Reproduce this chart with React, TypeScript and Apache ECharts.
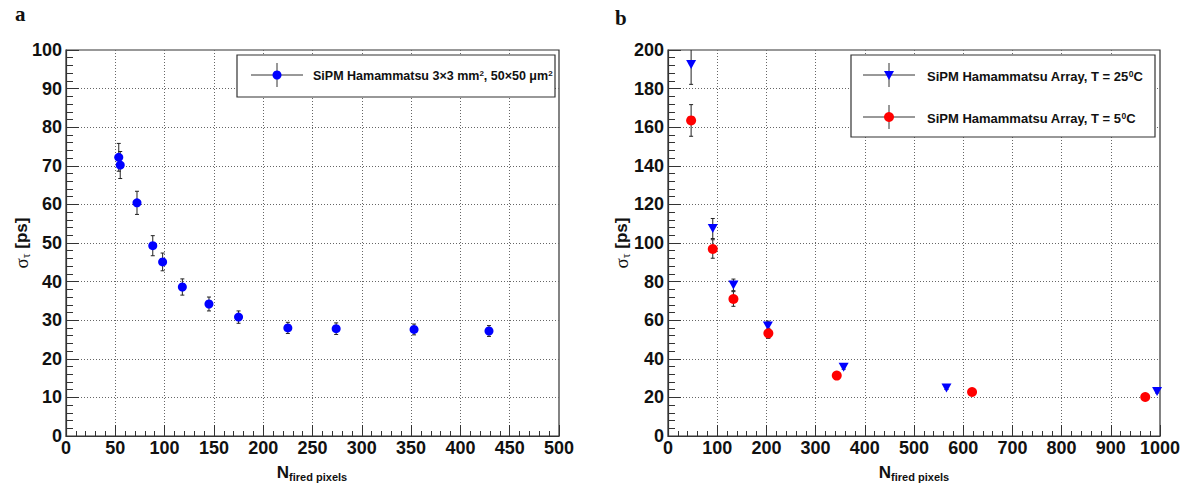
import React, { useEffect, useRef } from "react";
import * as echarts from "echarts";

// Panel a: SiPM Hamammatsu 3x3 mm2, 50x50 um2
const aX = [53.5, 55, 72, 88, 98, 118, 145, 175, 225, 274, 353, 429];
const aY = [72.2, 70.2, 60.4, 49.3, 45.1, 38.6, 34.2, 30.8, 28.0, 27.8, 27.6, 27.2];
const aErr = [3.6, 3.5, 3.0, 2.6, 2.3, 2.1, 1.8, 1.6, 1.45, 1.5, 1.4, 1.4];

// Panel b: SiPM Hamammatsu Array, T = 25C (blue) and T = 5C (red)
const blueX = [47, 91, 133, 203, 357, 566, 994];
const blueY = [192.5, 107.5, 78.3, 57.0, 35.6, 24.9, 23.1];
const blueErr = [10.3, 5.2, 3.0, 2.5, 1.0, 0.8, 0.8];
const redX = [47, 91, 133, 204, 343, 618, 970];
const redY = [163.5, 96.9, 71.0, 53.2, 31.3, 22.8, 20.2];
const redErr = [8.2, 4.8, 3.8, 2.6, 0.8, 0.7, 0.7];

const legendA = "SiPM Hamammatsu 3×3 mm";
const legendB1 = "SiPM Hamammatsu Array, T = 25";
const legendB2 = "SiPM Hamammatsu Array, T = 5";

const SANS = "'Liberation Sans', Arial, Helvetica, sans-serif";
const SERIF = "'Liberation Serif', 'Times New Roman', serif";
const AXC = "#333";

function errRender(params: any, api: any) {
  const x = api.value(0);
  const y = api.value(1);
  const e = api.value(2);
  const p = api.coord([x, y]);
  const hi = api.coord([x, y + e]);
  const lo = api.coord([x, y - e]);
  const cs = params.coordSys;
  const top = Math.max(hi[1], cs.y);
  const bot = Math.min(lo[1], cs.y + cs.height);
  const children: any[] = [
    { type: "line", shape: { x1: p[0], y1: top, x2: p[0], y2: bot }, style: { stroke: "#222", lineWidth: 1 } },
  ];
  if (hi[1] >= cs.y) children.push({ type: "line", shape: { x1: p[0] - 2, y1: hi[1], x2: p[0] + 2, y2: hi[1] }, style: { stroke: "#222", lineWidth: 1 } });
  if (lo[1] <= cs.y + cs.height) children.push({ type: "line", shape: { x1: p[0] - 2, y1: lo[1], x2: p[0] + 2, y2: lo[1] }, style: { stroke: "#222", lineWidth: 1 } });
  return { type: "group", children };
}

const labelCfg = (margin: number) => ({
  margin, fontFamily: SANS, fontWeight: "bold", fontSize: 18, color: "#111",
  formatter: (v: number) => String(v),
});

function xAxisCfg(gridIndex: number, max: number, interval: number) {
  return {
    type: "value", gridIndex, min: 0, max, interval,
    axisLine: { show: true, lineStyle: { color: AXC, width: 1.2 } },
    axisTick: { show: true, inside: true, length: 11, lineStyle: { color: AXC } },
    minorTick: { show: true, splitNumber: 5, length: 5, lineStyle: { color: AXC } },
    axisLabel: labelCfg(3),
    splitLine: { show: true, showMinLine: false, showMaxLine: false, lineStyle: { color: "#666", type: [1, 2], width: 1 } },
  };
}
function yAxisCfg(gridIndex: number, max: number, interval: number) {
  return {
    type: "value", gridIndex, min: 0, max, interval,
    axisLine: { show: true, lineStyle: { color: AXC, width: 1.2 } },
    axisTick: { show: true, inside: true, length: 13, lineStyle: { color: AXC } },
    minorTick: { show: true, splitNumber: 5, length: 7, lineStyle: { color: AXC } },
    axisLabel: labelCfg(4),
    splitLine: { show: true, showMinLine: false, showMaxLine: false, lineStyle: { color: "#666", type: [1, 2], width: 1 } },
  };
}

function txt(x: number, y: number, text: string, rich: any, align = "left", rotation = 0, z = 100) {
  return {
    type: "text", x, y, rotation, z,
    style: { text, rich, align, verticalAlign: "middle", textAlign: align, textVerticalAlign: "middle", fill: "#111", fontFamily: SANS },
  };
}

function legendEntry(cx: number, cy: number, marker: any) {
  return [
    { type: "line", z: 101, shape: { x1: cx - 26, y1: cy, x2: cx + 26, y2: cy }, style: { stroke: "#333", lineWidth: 1 } },
    { type: "line", z: 101, shape: { x1: cx, y1: cy - 12, x2: cx, y2: cy + 12 }, style: { stroke: "#333", lineWidth: 1 } },
    marker,
  ];
}

export default function App() {
  const ref = useRef<HTMLDivElement>(null);
  useEffect(() => {
    if (!ref.current) return;
    const chart = echarts.init(ref.current, undefined, { renderer: "svg" });
    const subRich = {
      t: { fontFamily: SANS, fontWeight: "bold", fontSize: 12.5, fill: "#111" },
      s: { fontFamily: SANS, fontWeight: "bold", fontSize: 8, fill: "#111", verticalAlign: "top", lineHeight: 8 },
    };
    const subRichB = {
      t: { fontFamily: SANS, fontWeight: "bold", fontSize: 13, fill: "#111" },
      s: { fontFamily: SANS, fontWeight: "bold", fontSize: 8.5, fill: "#111", verticalAlign: "top", lineHeight: 8 },
    };
    const yTitleRich = {
      g: { fontFamily: SERIF, fontSize: 19, fill: "#111", lineHeight: 22 },
      sub: { fontFamily: SERIF, fontSize: 12, fill: "#111", verticalAlign: "bottom", lineHeight: 12 },
      b: { fontFamily: SANS, fontWeight: "bold", fontSize: 17, fill: "#111", lineHeight: 22 },
    };
    const xTitleRich = {
      n: { fontFamily: SANS, fontWeight: "bold", fontSize: 17, fill: "#111", lineHeight: 20 },
      sub: { fontFamily: SANS, fontWeight: "bold", fontSize: 11, fill: "#111", verticalAlign: "bottom", lineHeight: 11 },
    };

    const option: any = {
      animation: false,
      backgroundColor: "#fff",
      grid: [
        { left: 66, top: 50, width: 493, height: 386, show: true, borderColor: AXC, borderWidth: 1.2, backgroundColor: "transparent" },
        { left: 668, top: 50, width: 492, height: 386, show: true, borderColor: AXC, borderWidth: 1.2, backgroundColor: "transparent" },
      ],
      xAxis: [xAxisCfg(0, 500, 50), xAxisCfg(1, 1000, 100)],
      yAxis: [yAxisCfg(0, 100, 10), yAxisCfg(1, 200, 20)],
      series: [
        { type: "custom", xAxisIndex: 0, yAxisIndex: 0, z: 3, renderItem: errRender, data: aX.map((x, i) => [x, aY[i], aErr[i]]) },
        { type: "scatter", xAxisIndex: 0, yAxisIndex: 0, z: 5, symbol: "circle", symbolSize: 9, itemStyle: { color: "#0000ff", opacity: 1 }, data: aX.map((x, i) => [x, aY[i]]) },
        { type: "custom", xAxisIndex: 1, yAxisIndex: 1, z: 3, renderItem: errRender, data: blueX.map((x, i) => [x, blueY[i], blueErr[i]]) },
        { type: "custom", xAxisIndex: 1, yAxisIndex: 1, z: 3, renderItem: errRender, data: redX.map((x, i) => [x, redY[i], redErr[i]]) },
        { type: "scatter", xAxisIndex: 1, yAxisIndex: 1, z: 5, symbol: "triangle", symbolRotate: 180, symbolSize: [10, 9], itemStyle: { color: "#0000ff", opacity: 1 }, data: blueX.map((x, i) => [x, blueY[i]]) },
        { type: "scatter", xAxisIndex: 1, yAxisIndex: 1, z: 5, symbol: "circle", symbolSize: 10, itemStyle: { color: "#ff0000", opacity: 1 }, data: redX.map((x, i) => [x, redY[i]]) },
      ],
      graphic: [
        // panel letters
        { type: "text", x: 15, y: 14, style: { text: "a", fontFamily: SERIF, fontWeight: "bold", fontSize: 21, fill: "#111", verticalAlign: "middle", textVerticalAlign: "middle" } },
        { type: "text", x: 615, y: 18, style: { text: "b", fontFamily: SERIF, fontWeight: "bold", fontSize: 21, fill: "#111", verticalAlign: "middle", textVerticalAlign: "middle" } },
        // axis titles
        txt(21, 243, "{g|σ}{sub|τ}{b| [ps]}", yTitleRich, "center", Math.PI / 2),
        txt(621, 243, "{g|σ}{sub|τ}{b| [ps]}", yTitleRich, "center", Math.PI / 2),
        txt(312, 472, "{n|N}{sub|fired pixels}", xTitleRich, "center"),
        txt(914, 472, "{n|N}{sub|fired pixels}", xTitleRich, "center"),
        // legend a
        { type: "rect", z: 100, shape: { x: 237, y: 55, width: 318, height: 42 }, style: { fill: "#fff", stroke: "#333", lineWidth: 1.2 } },
        ...legendEntry(277, 75, { type: "circle", z: 102, shape: { cx: 277, cy: 75, r: 4.5 }, style: { fill: "#0000ff" } }),
        txt(313, 76, "{t|" + legendA + "}{s|2}{t|, 50×50 μm}{s|2}", subRich, "left", 0, 102),
        // legend b
        { type: "rect", z: 100, shape: { x: 851, y: 55, width: 304, height: 82 }, style: { fill: "#fff", stroke: "#333", lineWidth: 1.2 } },
        ...legendEntry(889, 75, { type: "polygon", z: 102, shape: { points: [[884, 71], [894, 71], [889, 80]] }, style: { fill: "#0000ff" } }),
        txt(927, 76, "{t|" + legendB1 + "}{s|0}{t|C}", subRichB, "left", 0, 102),
        ...legendEntry(889, 117, { type: "circle", z: 102, shape: { cx: 889, cy: 117, r: 5 }, style: { fill: "#ff0000" } }),
        txt(927, 118, "{t|" + legendB2 + "}{s|0}{t|C}", subRichB, "left", 0, 102),
      ],
    };
    chart.setOption(option);
    return () => chart.dispose();
  }, []);
  return (
    <div
      ref={ref}
      style={{ position: "absolute", left: 0, top: 0, width: 1189, height: 488, background: "#fff" }}
    />
  );
}
